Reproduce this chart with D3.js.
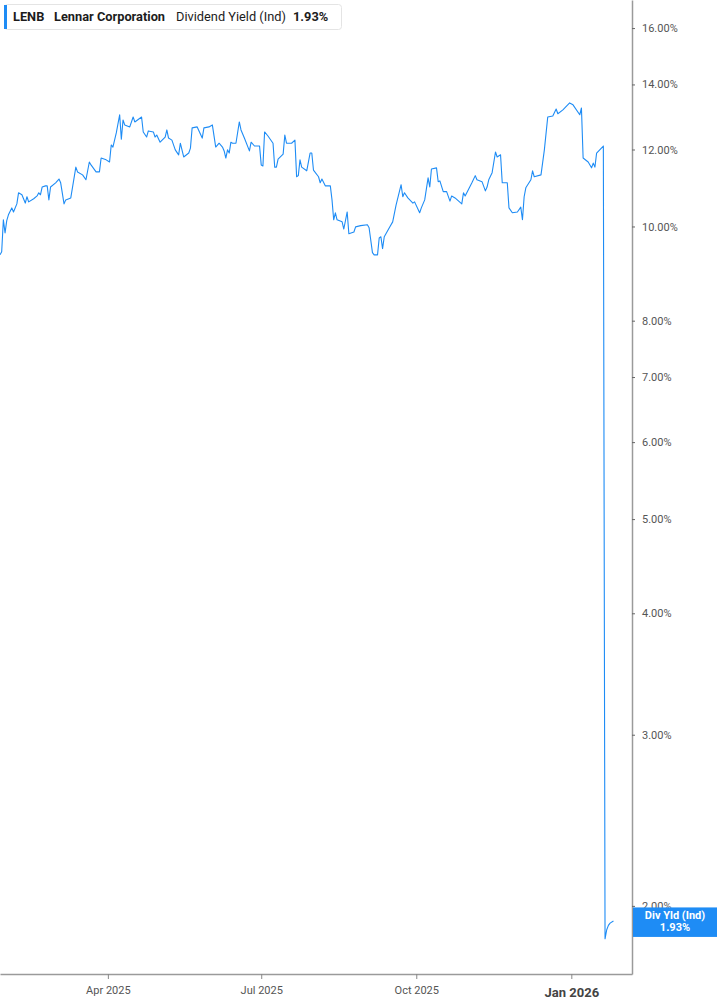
<!DOCTYPE html>
<html>
<head>
<meta charset="utf-8">
<script src="https://cdn.jsdelivr.net/npm/d3@7"></script>
<style>
  body { margin: 0; background: #fff; }
  svg { display: block; font-family: Roboto, "Noto Sans", sans-serif; }
</style>
</head>
<body>
<svg id="chart" width="717" height="1005"></svg>
<script>
var dates = [
  "2025-01-27","2025-01-28","2025-01-29","2025-01-30","2025-01-31","2025-02-01","2025-02-03","2025-02-04",
  "2025-02-06","2025-02-07","2025-02-09","2025-02-11","2025-02-12","2025-02-13","2025-02-16","2025-02-18",
  "2025-02-19","2025-02-20","2025-02-21","2025-02-23","2025-02-24","2025-02-25","2025-02-26","2025-03-01",
  "2025-03-03","2025-03-04","2025-03-06","2025-03-07","2025-03-10","2025-03-13","2025-03-14","2025-03-17",
  "2025-03-19","2025-03-21","2025-03-22","2025-03-25","2025-03-27","2025-03-28","2025-03-31","2025-04-02",
  "2025-04-03","2025-04-04","2025-04-06","2025-04-08","2025-04-09","2025-04-10","2025-04-11","2025-04-14",
  "2025-04-16","2025-04-17","2025-04-21","2025-04-22","2025-04-24","2025-04-25","2025-04-28","2025-04-29",
  "2025-04-30","2025-05-02","2025-05-05","2025-05-06","2025-05-07","2025-05-09","2025-05-11","2025-05-13",
  "2025-05-14","2025-05-16","2025-05-19","2025-05-20","2025-05-21","2025-05-24","2025-05-27","2025-05-28",
  "2025-05-31","2025-06-02","2025-06-04","2025-06-06","2025-06-08","2025-06-09","2025-06-10","2025-06-11",
  "2025-06-12","2025-06-13","2025-06-14","2025-06-16","2025-06-18","2025-06-19","2025-06-21","2025-06-24",
  "2025-06-25","2025-06-27","2025-06-30","2025-07-01","2025-07-02","2025-07-03","2025-07-05","2025-07-08",
  "2025-07-09","2025-07-10","2025-07-11","2025-07-14","2025-07-15","2025-07-16","2025-07-19","2025-07-21",
  "2025-07-22","2025-07-23","2025-07-24","2025-07-25","2025-07-28","2025-07-30","2025-07-31","2025-08-01",
  "2025-08-04","2025-08-05","2025-08-06","2025-08-08","2025-08-11","2025-08-12","2025-08-13","2025-08-14",
  "2025-08-15","2025-08-18","2025-08-19","2025-08-21","2025-08-22","2025-08-25","2025-08-26","2025-08-29",
  "2025-09-02","2025-09-03","2025-09-05","2025-09-06","2025-09-08","2025-09-09","2025-09-10","2025-09-11",
  "2025-09-12","2025-09-15","2025-09-17","2025-09-19","2025-09-22","2025-09-23","2025-09-24","2025-09-26",
  "2025-09-29","2025-09-30","2025-10-03","2025-10-04","2025-10-06","2025-10-08","2025-10-09","2025-10-10",
  "2025-10-13","2025-10-14","2025-10-15","2025-10-17","2025-10-19","2025-10-21","2025-10-22","2025-10-24",
  "2025-10-28","2025-10-29","2025-10-30","2025-11-03","2025-11-05","2025-11-06","2025-11-09","2025-11-11",
  "2025-11-12","2025-11-13","2025-11-15","2025-11-17","2025-11-18","2025-11-20","2025-11-21","2025-11-24",
  "2025-11-25","2025-11-27","2025-11-30","2025-12-02","2025-12-03","2025-12-04","2025-12-05","2025-12-08",
  "2025-12-09","2025-12-10","2025-12-14","2025-12-16","2025-12-18","2025-12-21","2025-12-23","2025-12-24",
  "2025-12-27","2025-12-31","2026-01-02","2026-01-06","2026-01-07","2026-01-08","2026-01-11","2026-01-13",
  "2026-01-14","2026-01-15","2026-01-16","2026-01-20","2026-01-21","2026-01-22","2026-01-23","2026-01-24",
  "2026-01-26"
];

var yields = [
  9.35, 9.42, 10.16, 9.85, 10.14, 10.28, 10.45, 10.35,
  10.55, 10.83, 10.78, 10.57, 10.73, 10.60, 10.68, 10.75,
  10.83, 10.78, 10.98, 11.01, 11.01, 10.65, 10.98, 11.09,
  11.19, 11.09, 10.55, 10.65, 10.70, 11.51, 11.38, 11.30,
  11.17, 11.65, 11.57, 11.38, 11.38, 11.76, 11.71, 11.65,
  12.13, 12.07, 12.48, 13.03, 12.30, 12.87, 12.72, 12.66,
  12.96, 12.81, 12.96, 12.51, 12.36, 12.54, 12.51, 12.36,
  12.42, 12.21, 12.36, 12.57, 12.33, 12.27, 11.99, 11.85,
  12.18, 11.79, 11.90, 12.04, 12.63, 12.66, 12.33, 12.63,
  12.66, 12.72, 12.07, 12.18, 12.07, 11.96, 11.76, 11.99,
  11.90, 12.21, 12.18, 12.18, 12.81, 12.57, 12.33, 11.96,
  12.21, 12.10, 12.10, 11.57, 11.54, 12.51, 12.39, 12.18,
  11.51, 11.51, 11.73, 11.87, 12.42, 12.18, 12.18, 12.27,
  11.25, 11.28, 11.71, 11.51, 11.41, 11.90, 11.90, 11.43,
  11.25, 11.09, 11.19, 11.01, 11.01, 10.65, 10.16, 10.33,
  10.16, 10.11, 9.94, 10.35, 9.83, 9.87, 9.99, 10.02,
  10.04, 9.97, 9.40, 9.35, 9.35, 9.73, 9.76, 9.49,
  9.76, 9.97, 10.11, 10.52, 11.04, 10.73, 10.83, 10.70,
  10.57, 10.60, 10.33, 10.45, 10.65, 11.22, 10.98, 11.46,
  11.49, 11.12, 11.14, 10.86, 10.86, 10.62, 10.75, 10.70,
  10.55, 10.83, 10.75, 11.09, 11.28, 11.17, 11.12, 10.88,
  10.98, 11.17, 11.36, 11.93, 11.79, 11.85, 11.09, 11.09,
  10.45, 10.33, 10.35, 10.47, 10.16, 10.73, 10.96, 11.17,
  11.41, 11.25, 11.30, 11.99, 12.96, 12.99, 13.21, 13.06,
  13.18, 13.40, 13.34, 13.03, 13.24, 11.76, 11.65, 11.49,
  11.62, 11.51, 11.90, 12.10, 1.85, 1.89, 1.91, 1.92,
  1.93
];

var yTicks = [2, 3, 4, 5, 6, 7, 8, 10, 12, 14, 16];
var xTicks = ["2025-04-01", "2025-07-01", "2025-10-01", "2026-01-01"];
var xDomain = ["2025-01-27", "2026-02-06"];
var yDomain = [1.702, 17.1];

var legendParts = [
  { text: "LENB", bold: true },
  { text: "Lennar Corporation", bold: true },
  { text: "Dividend Yield (Ind)", bold: false },
  { text: "1.93%", bold: true }
];
var lastLabel = ["Div Yld (Ind)", "1.93%"];

var blue = "#1e8cf5";
var plotRight = 632;
var plotBottom = 974;

var parse = d3.timeParse("%Y-%m-%d");
var data = dates.map(function (d, i) { return { date: parse(d), value: yields[i] }; });

var chart = d3.select("#chart");

var x = d3.scaleTime()
    .domain(xDomain.map(parse))
    .range([0, plotRight]);

var y = d3.scaleLog()
    .domain(yDomain)
    .range([plotBottom, 0]);

// right axis
var yAxis = d3.axisRight(y)
    .tickValues(yTicks)
    .tickFormat(function (d) { return d.toFixed(2) + "%"; })
    .tickSize(3)
    .tickSizeOuter(0)
    .tickPadding(7);

var gy = chart.append("g")
    .attr("transform", "translate(" + plotRight + ",0)")
    .call(yAxis);
gy.select(".domain").attr("stroke", "#9a9a9a").attr("stroke-width", 1.5);
gy.selectAll(".tick line").attr("stroke", "#666");
gy.selectAll(".tick text")
    .attr("fill", "#555")
    .attr("font-size", 11)
    .attr("font-family", "Roboto, sans-serif");

// bottom axis
var xAxis = d3.axisBottom(x)
    .tickValues(xTicks.map(parse))
    .tickFormat(d3.timeFormat("%b %Y"))
    .tickSize(5)
    .tickSizeOuter(0)
    .tickPadding(7);

var gx = chart.append("g")
    .attr("transform", "translate(0," + plotBottom + ")")
    .call(xAxis);
gx.select(".domain").attr("stroke", "#9a9a9a").attr("stroke-width", 1.5);
gx.selectAll(".tick line").attr("stroke", "#888");
gx.selectAll(".tick text")
    .attr("fill", "#555")
    .attr("font-size", 11)
    .attr("font-family", "Roboto, sans-serif");
gx.selectAll(".tick text")
    .filter(function (d) { return d.getMonth() === 0; })
    .attr("font-size", 13)
    .attr("font-weight", "bold")
    .attr("fill", "#444")
    .attr("dy", "0.85em");

// series line
var line = d3.line()
    .x(function (d) { return x(d.date); })
    .y(function (d) { return y(d.value); });

chart.append("path")
    .datum(data)
    .attr("fill", "none")
    .attr("stroke", blue)
    .attr("stroke-width", 1.1)
    .attr("stroke-linejoin", "round")
    .attr("d", line);

// last value label, drawn over the 2.00% tick label like the original
var last = data[data.length - 1];
var ly = y(last.value);
chart.append("rect")
    .attr("x", plotRight + 1)
    .attr("y", ly - 13.5)
    .attr("width", 717 - plotRight - 1)
    .attr("height", 29.5)
    .attr("fill", blue);
chart.append("text")
    .attr("x", 675)
    .attr("y", ly - 1.5)
    .attr("text-anchor", "middle")
    .attr("font-size", 11)
    .attr("font-weight", "bold")
    .attr("fill", "#fff")
    .text(lastLabel[0]);
chart.append("text")
    .attr("x", 675)
    .attr("y", ly + 10)
    .attr("text-anchor", "middle")
    .attr("font-size", 11)
    .attr("font-weight", "bold")
    .attr("fill", "#fff")
    .text(lastLabel[1]);

// legend
var legend = chart.append("g");
legend.append("rect")
    .attr("x", 4.5)
    .attr("y", 4.5)
    .attr("width", 337)
    .attr("height", 25)
    .attr("rx", 3)
    .attr("fill", "#fff")
    .attr("stroke", "#e4e4e4");
legend.append("rect")
    .attr("x", 4)
    .attr("y", 5)
    .attr("width", 3)
    .attr("height", 24)
    .attr("fill", blue);

var legendX = [13, 54, 176, 293];
legendParts.forEach(function (p, i) {
    legend.append("text")
        .attr("x", legendX[i])
        .attr("y", 21)
        .attr("font-size", 12.8)
        .attr("font-weight", p.bold ? "bold" : "normal")
        .attr("fill", "#1c1c1c")
        .text(p.text);
});
</script>
</body>
</html>
